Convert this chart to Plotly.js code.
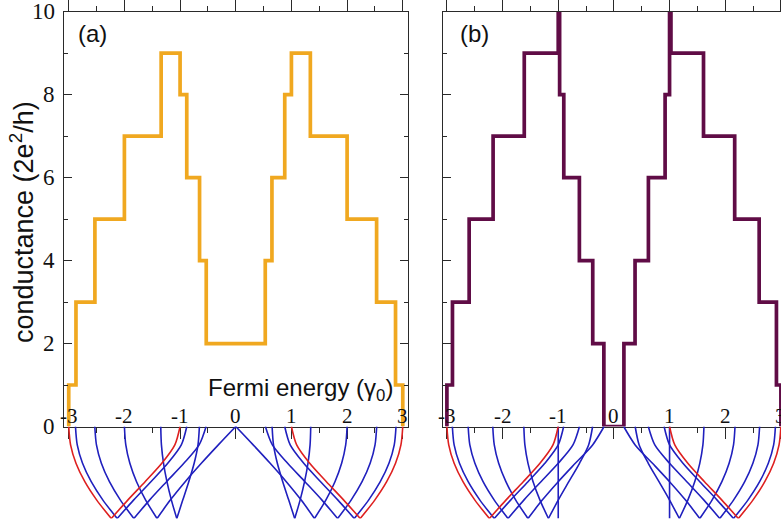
<!DOCTYPE html>
<html><head><meta charset="utf-8">
<script src="https://cdn.plot.ly/plotly-3.0.1.min.js"></script>
<style>html,body{margin:0;padding:0;background:#fff;} #chart{width:781px;height:526px;}</style>
</head><body><div id="chart"></div>
<script>
// ---------- data ----------
// x tick labels (Fermi energy, gamma0)
const xTickVals = [-3, -2, -1, 0, 1, 2, 3];
const xTickText = ["-3", "-2", "-1", "0", "1", "2", "3"];
const yTickVals = [0, 2, 4, 6, 8, 10];
const yTickText = ["0", "2", "4", "6", "8", "10"];

// panel (a): conductance step edges (energy) and the level between consecutive edges
const edgesA  = [-3.0, -2.87, -2.53, -2.0, -1.34, -1.0, -0.88, -0.65, -0.53, 0.53, 0.65, 0.88, 1.0, 1.34, 2.0, 2.53, 2.87, 3.0];
const levelsA = [1, 3, 5, 7, 9, 8, 6, 4, 2, 4, 6, 8, 9, 7, 5, 3, 1];

// panel (b)
const edgesB  = [-3.0, -2.90, -2.60, -2.17, -1.61, -1.0, -0.975, -0.90, -0.62, -0.38, -0.18, 0.18, 0.38, 0.62, 0.92, 1.0, 1.025, 1.61, 2.17, 2.61, 2.92, 3.0];
const levelsB = [1, 3, 5, 7, 9, 12, 8, 6, 4, 2, 0, 2, 4, 6, 8, 12, 9, 7, 5, 3, 1];

// band sketches under the axis: depth below the axis (0 = axis, -1 = bottom)
const bandDepth = [0, -0.2, -0.4, -0.6, -0.8, -1.0];
// positive-energy side; first entry of each list is the red band
const aOuter = [
  [3.000, 2.967, 2.870, 2.711, 2.497, 2.236],
  [2.879, 2.847, 2.752, 2.596, 2.386, 2.129],
  [2.532, 2.502, 2.414, 2.269, 2.072, 1.830],
  [2.000, 1.975, 1.902, 1.782, 1.618, 1.414],
  [1.347, 1.335, 1.297, 1.236, 1.156, 1.059]
];
const aInner = [
  [1.000, 1.094, 1.328, 1.628, 1.940, 2.236],
  [0.879, 0.978, 1.221, 1.524, 1.836, 2.129],
  [0.532, 0.658, 0.932, 1.243, 1.549, 1.830],
  [0.000, 0.313, 0.618, 0.908, 1.176, 1.414],
  [0.653, 0.678, 0.747, 0.844, 0.952, 1.059]
];
const bOuter = [
  [3.000, 2.967, 2.870, 2.711, 2.497, 2.236],
  [2.902, 2.870, 2.774, 2.618, 2.407, 2.149],
  [2.618, 2.588, 2.497, 2.350, 2.149, 1.902],
  [2.176, 2.149, 2.070, 1.940, 1.763, 1.543],
  [1.618, 1.599, 1.543, 1.452, 1.328, 1.176]
];
const bInner = [
  [1.000, 1.094, 1.328, 1.628, 1.940, 2.236],
  [0.902, 1.000, 1.241, 1.543, 1.855, 2.149],
  [0.618, 0.735, 1.000, 1.310, 1.618, 1.902],
  [0.176, 0.382, 0.693, 1.000, 1.287, 1.543],
  [0.382, 0.454, 0.618, 0.810, 1.000, 1.176]
];
const bFlat = [1, 1, 1, 1, 1, 1];

// ---------- build ----------
const W = 781, H = 526;
const px = v => v / W;
const py = v => 1 - v / H;

function stepTrace(edges, levels, xa, ya, color) {
  return {
    x: [edges[0]].concat(edges),
    y: [0].concat(levels, [0]),
    xaxis: xa, yaxis: ya, mode: 'lines', hoverinfo: 'skip',
    line: {color: color, width: 3.7, shape: 'hv'}
  };
}
function bandTrace(branches, xa, ya, color) {
  const x = [], y = [];
  branches.forEach(br => {
    [1, -1].forEach(s => {
      br.forEach((e, i) => { x.push(s * e); y.push(bandDepth[i]); });
      x.push(null); y.push(null);
    });
  });
  return {x, y, xaxis: xa, yaxis: ya, mode: 'lines', hoverinfo: 'skip',
          line: {color: color, width: 1.6, shape: 'spline', smoothing: 0.8}};
}

const ORANGE = 'rgb(240,168,32)';
const PURPLE = 'rgb(96,12,70)';
const BLUE = 'rgb(32,32,190)';
const RED = 'rgb(222,32,32)';

const traces = [
  bandTrace(aOuter.slice(1).concat(aInner.slice(1)), 'x', 'y2', BLUE),
  bandTrace([aOuter[0], aInner[0]], 'x', 'y2', RED),
  stepTrace(edgesA, levelsA, 'x', 'y', ORANGE),
  bandTrace(bOuter.slice(1).concat(bInner.slice(1), [bFlat]), 'x2', 'y4', BLUE),
  bandTrace([bOuter[0], bInner[0]], 'x2', 'y4', RED),
  stepTrace(edgesB, levelsB, 'x2', 'y3', PURPLE)
];

const SPINE = '#2a2a2a';
function xAxis(domain, range, anchor) {
  return {
    domain, range, anchor, showgrid: false, zeroline: false, fixedrange: true,
    showline: true, linecolor: SPINE, linewidth: 1, mirror: 'ticks',
    ticks: 'outside', ticklen: 11, tickwidth: 1, tickcolor: SPINE,
    tickmode: 'array', tickvals: xTickVals, showticklabels: false,
    minor: {ticks: 'outside', ticklen: 5, tickwidth: 1, tickcolor: SPINE, tickmode: 'linear', tick0: 0, dtick: 0.5, showgrid: false}
  };
}
function yAxis(anchor, mirror) {
  return {
    domain: [py(426.5), py(11.7)], range: [0, 10], anchor,
    showgrid: false, zeroline: false, fixedrange: true,
    showline: true, linecolor: SPINE, linewidth: 1, mirror: mirror,
    ticks: 'inside', ticklen: 8, tickwidth: 1, tickcolor: SPINE,
    tickmode: 'array', tickvals: yTickVals, showticklabels: false,
    minor: {ticks: 'inside', ticklen: 4, tickwidth: 1, tickcolor: SPINE, tickmode: 'linear', tick0: 0, dtick: 1, showgrid: false}
  };
}
const bandY = anchor => ({domain: [py(518.5), py(426.5)], range: [-1.0, 0], anchor, visible: false, fixedrange: true});

const SERIF = 'Liberation Serif, Times New Roman, serif';
const SANS = 'Liberation Sans, Arial, sans-serif';
const annotations = [];
// x tick labels, drawn inside the boxes just above the axis
[['x', 'y'], ['x2', 'y3']].forEach(([xr, yr]) => {
  xTickVals.forEach((v, i) => annotations.push({
    text: xTickText[i], xref: xr, yref: yr, x: v, y: 0, xanchor: 'center', yanchor: 'bottom',
    yshift: -3, showarrow: false, font: {family: SERIF, size: 21, color: '#111'}
  }));
});
// y tick labels (panel a only)
yTickVals.forEach((v, i) => annotations.push({
  text: yTickText[i], xref: 'paper', yref: 'y', x: px(57), y: v, xanchor: 'right', yanchor: 'middle',
  showarrow: false, font: {family: SERIF, size: 23, color: '#111'}
}));
annotations.push(
  {text: 'conductance (2e<sup>2</sup>/h)', xref: 'paper', yref: 'paper', x: px(22), y: py(222),
   textangle: -90, showarrow: false, xanchor: 'center', yanchor: 'middle',
   font: {family: SANS, size: 27, color: '#111'}},
  {text: '(a)', xref: 'paper', yref: 'paper', x: px(76), y: py(33), showarrow: false,
   xanchor: 'left', yanchor: 'middle', font: {family: SANS, size: 24, color: '#111'}},
  {text: '(b)', xref: 'paper', yref: 'paper', x: px(458), y: py(33), showarrow: false,
   xanchor: 'left', yanchor: 'middle', font: {family: SANS, size: 24, color: '#111'}},
  {text: 'Fermi energy (γ<sub>0</sub>)', xref: 'paper', yref: 'paper', x: px(206), y: py(389), showarrow: false,
   xanchor: 'left', yanchor: 'middle', font: {family: SANS, size: 24, color: '#111'}}
);

const layout = {
  width: W, height: H,
  margin: {l: 0, r: 0, t: 0, b: 0, pad: 0},
  paper_bgcolor: '#fff', plot_bgcolor: 'rgba(0,0,0,0)',
  showlegend: false,
  xaxis: xAxis([px(64), px(407.5)], [-3.085, 3.085], 'y'),
  yaxis: yAxis('x', 'ticks'),
  yaxis2: bandY('x'),
  xaxis2: xAxis([px(443), 1], [-3.07, 3.002], 'y3'),
  yaxis3: yAxis('x2', false),
  yaxis4: bandY('x2'),
  annotations
};

Plotly.newPlot('chart', traces, layout, {staticPlot: true, displayModeBar: false});
</script></body></html>
